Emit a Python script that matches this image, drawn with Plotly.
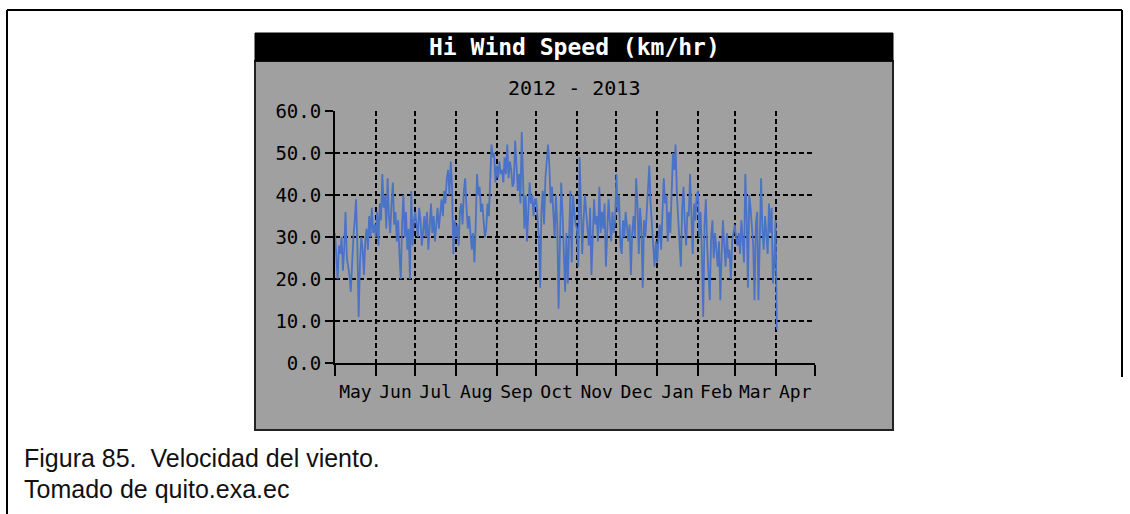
import pandas as pd
import plotly.graph_objects as go

# Daily high wind speed (km/hr), May 2012 - early April 2013
may = [31, 24, 20, 28, 26, 30, 22, 27, 36, 25, 23, 21, 17, 26, 30, 34, 39, 28, 11, 24,
       30, 27, 21, 29, 32, 27, 35, 30, 37, 31, 33]
jun = [30, 36, 28, 38, 34, 45, 37, 40, 32, 44, 35, 31, 38, 43, 33, 36, 29, 34, 26, 20,
       33, 40, 30, 36, 27, 32, 20, 41, 28, 34]
jul = [36, 33, 30, 37, 34, 28, 32, 35, 30, 36, 27, 33, 38, 31, 35, 29, 34, 37, 32, 36,
       39, 35, 41, 38, 44, 46, 40, 48, 42, 26, 34]
aug = [30, 33, 28, 36, 38, 33, 41, 44, 37, 32, 35, 30, 27, 31, 24, 33, 45, 40, 42, 36,
       38, 34, 30, 32, 38, 35, 46, 52, 49, 50, 43]
sep = [47, 44, 48, 45, 46, 43, 49, 45, 52, 44, 48, 46, 42, 43, 53, 47, 41, 45, 38, 55,
       44, 32, 40, 29, 36, 43, 38, 40, 35, 39]
oct_ = [39, 34, 30, 18, 36, 41, 33, 44, 48, 52, 47, 38, 42, 35, 30, 40, 33, 13, 34, 43,
        36, 28, 17, 31, 19, 30, 41, 24, 40, 36, 33]
nov = [32, 23, 49, 38, 26, 34, 40, 36, 32, 28, 37, 21, 30, 39, 33, 35, 29, 42, 31, 36,
       32, 38, 23, 30, 39, 34, 29, 36, 31, 34]
dec = [45, 36, 40, 28, 26, 34, 30, 36, 32, 29, 33, 21, 31, 35, 30, 44, 38, 26, 37, 32,
       18, 34, 30, 36, 41, 47, 38, 33, 30, 23, 29]
jan = [24, 30, 33, 27, 36, 44, 38, 40, 29, 36, 31, 43, 50, 46, 52, 40, 35, 30, 23, 37,
       42, 33, 28, 36, 35, 45, 32, 26, 38, 34, 40]
feb = [41, 30, 36, 26, 11, 33, 39, 28, 22, 15, 30, 34, 25, 31, 27, 23, 29, 15, 26, 34,
       28, 23, 31, 25, 27, 20, 29, 31]
mar = [33, 30, 28, 31, 26, 34, 30, 24, 45, 35, 18, 40, 37, 31, 28, 15, 33, 36, 15, 29,
       44, 32, 27, 35, 30, 26, 38, 31, 37, 19, 24]
apr = [34, 8]

wind = may + jun + jul + aug + sep + oct_ + nov + dec + jan + feb + mar + apr
dates = pd.date_range("2012-05-01", periods=len(wind), freq="D")

y_ticks = [0, 10, 20, 30, 40, 50, 60]
y_labels = [f"{v:.1f}" for v in y_ticks]

title_text = "Hi Wind Speed (km/hr)"
subtitle_text = "2012 - 2013"
caption_lines = ["Figura 85.  Velocidad del viento.", "Tomado de quito.exa.ec"]

W, H = 1130, 514


def px(x):
    return x / W


def py(y):
    return 1 - y / H


fig = go.Figure()
fig.add_trace(go.Scatter(
    x=dates, y=wind, mode="lines",
    line=dict(color="#4a72c6", width=1.8),
    hoverinfo="x+y", showlegend=False,
))

mono = "DejaVu Sans Mono"
grid = dict(showgrid=True, gridcolor="black", gridwidth=2, griddash="5px,3px")

fig.update_layout(
    width=W, height=H, autosize=False,
    margin=dict(l=0, r=0, t=0, b=0, pad=0, autoexpand=False),
    paper_bgcolor="white",
    plot_bgcolor="rgba(0,0,0,0)",
    xaxis=dict(
        domain=[px(335), px(815)],
        automargin=False,
        type="date",
        range=["2012-05-01", "2013-05-01"],
        tick0="2012-05-01", dtick="M1",
        tickformat="%b", ticklabelmode="period",
        ticks="outside", ticklen=11, tickwidth=2, tickcolor="black",
        showline=True, linecolor="black", linewidth=2,
        tickfont=dict(family=mono, size=18, color="black"),
        zeroline=False,
        **grid,
    ),
    yaxis=dict(
        domain=[py(363.3), py(111)],
        automargin=False,
        range=[0, 60],
        tickvals=y_ticks, ticktext=y_labels,
        ticks="outside", ticklen=8, tickwidth=2, tickcolor="black",
        showline=True, linecolor="black", linewidth=2,
        tickfont=dict(family=mono, size=19, color="black"),
        zeroline=False,
        **grid,
    ),
    shapes=[
        # page frame
        dict(type="line", xref="paper", yref="paper", x0=px(7), x1=px(7), y0=py(10), y1=py(514),
             line=dict(color="black", width=2), layer="below"),
        dict(type="line", xref="paper", yref="paper", x0=px(7), x1=px(1122), y0=py(10), y1=py(10),
             line=dict(color="black", width=2), layer="below"),
        dict(type="line", xref="paper", yref="paper", x0=px(1122), x1=px(1122), y0=py(10), y1=py(377),
             line=dict(color="black", width=2), layer="below"),
        # chart panel
        dict(type="rect", xref="paper", yref="paper", x0=px(255), x1=px(893), y0=py(430), y1=py(61),
             fillcolor="#a0a0a0", line=dict(color="#222222", width=2), layer="below"),
        # title bar
        dict(type="rect", xref="paper", yref="paper", x0=px(255), x1=px(893), y0=py(61), y1=py(33),
             fillcolor="black", line=dict(color="black", width=1), layer="below"),
    ],
    annotations=[
        dict(text=title_text, xref="paper", yref="paper", x=px(574), y=py(47),
             showarrow=False, xanchor="center", yanchor="middle",
             font=dict(family=mono, size=23, color="white", weight="bold")),
        dict(text=subtitle_text, xref="paper", yref="paper", x=px(574), y=py(88),
             showarrow=False, xanchor="center", yanchor="middle",
             font=dict(family=mono, size=20, color="black")),
        dict(text=caption_lines[0], xref="paper", yref="paper", x=px(22), y=py(458),
             showarrow=False, xanchor="left", yanchor="middle",
             font=dict(family="Liberation Sans", size=25, color="#111111")),
        dict(text=caption_lines[1], xref="paper", yref="paper", x=px(22), y=py(489),
             showarrow=False, xanchor="left", yanchor="middle",
             font=dict(family="Liberation Sans", size=25, color="#111111")),
    ],
)

fig.write_html("out.html")
